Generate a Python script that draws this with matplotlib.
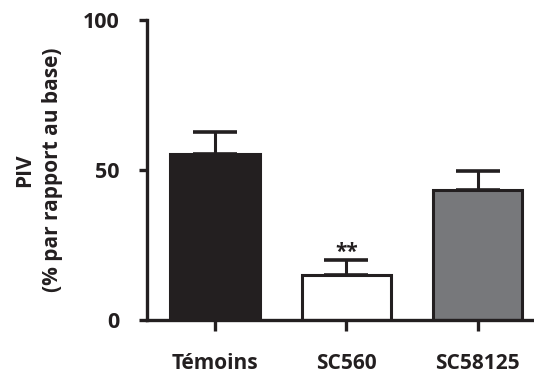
import matplotlib
matplotlib.use("Agg")
import matplotlib.pyplot as plt

categories = ["Témoins", "SC560", "SC58125"]
values = [55.3, 15.0, 43.3]
errors = [7.4, 5.1, 6.5]
colors = ["#231f20", "#ffffff", "#77787b"]
significance = ["", "**", ""]
y_ticks = [0, 50, 100]

plt.rcParams["font.family"] = ["Open Sans", "DejaVu Sans"]
plt.rcParams["font.weight"] = "bold"

fig = plt.figure(figsize=(5.34, 3.76), dpi=100)
ax = fig.add_axes([0.275, 0.149, 0.723, 0.798])

ink = "#231f20"
x = range(len(categories))
ax.bar(x, values, width=0.68, color=colors, edgecolor=ink, linewidth=2.2, zorder=2)
ax.errorbar(x, values, yerr=[[0] * len(errors), errors], fmt="none",
            ecolor=ink, elinewidth=2.2, capsize=16, capthick=2.6, zorder=1)

for xi, v, e, s in zip(x, values, errors, significance):
    if s:
        ax.text(xi, v + e - 1.0, s, ha="center", va="bottom",
                fontsize=15, fontweight="bold", color=ink)

ax.set_xlim(-0.517, 2.42)
ax.set_ylim(0, 100)
ax.set_yticks(y_ticks)
ax.set_xticks(list(x))
ax.set_xticklabels(categories)

for side in ("top", "right"):
    ax.spines[side].set_visible(False)
for side in ("left", "bottom"):
    ax.spines[side].set_linewidth(2.4)
    ax.spines[side].set_color(ink)
    ax.spines[side].set_capstyle("projecting")

ax.tick_params(axis="y", length=6, width=2.4, color=ink, pad=14,
               labelsize=15.5, labelcolor=ink)
ax.tick_params(axis="x", length=8, width=2.4, color=ink, pad=16,
               labelsize=15, labelcolor=ink)
for lbl in ax.get_xticklabels() + ax.get_yticklabels():
    lbl.set_fontweight("bold")

ax.set_ylabel("PIV\n(% par rapport au base)", fontsize=15, fontweight="bold",
              color=ink, linespacing=1.4, labelpad=14)

fig.savefig("out.png", dpi=100)
